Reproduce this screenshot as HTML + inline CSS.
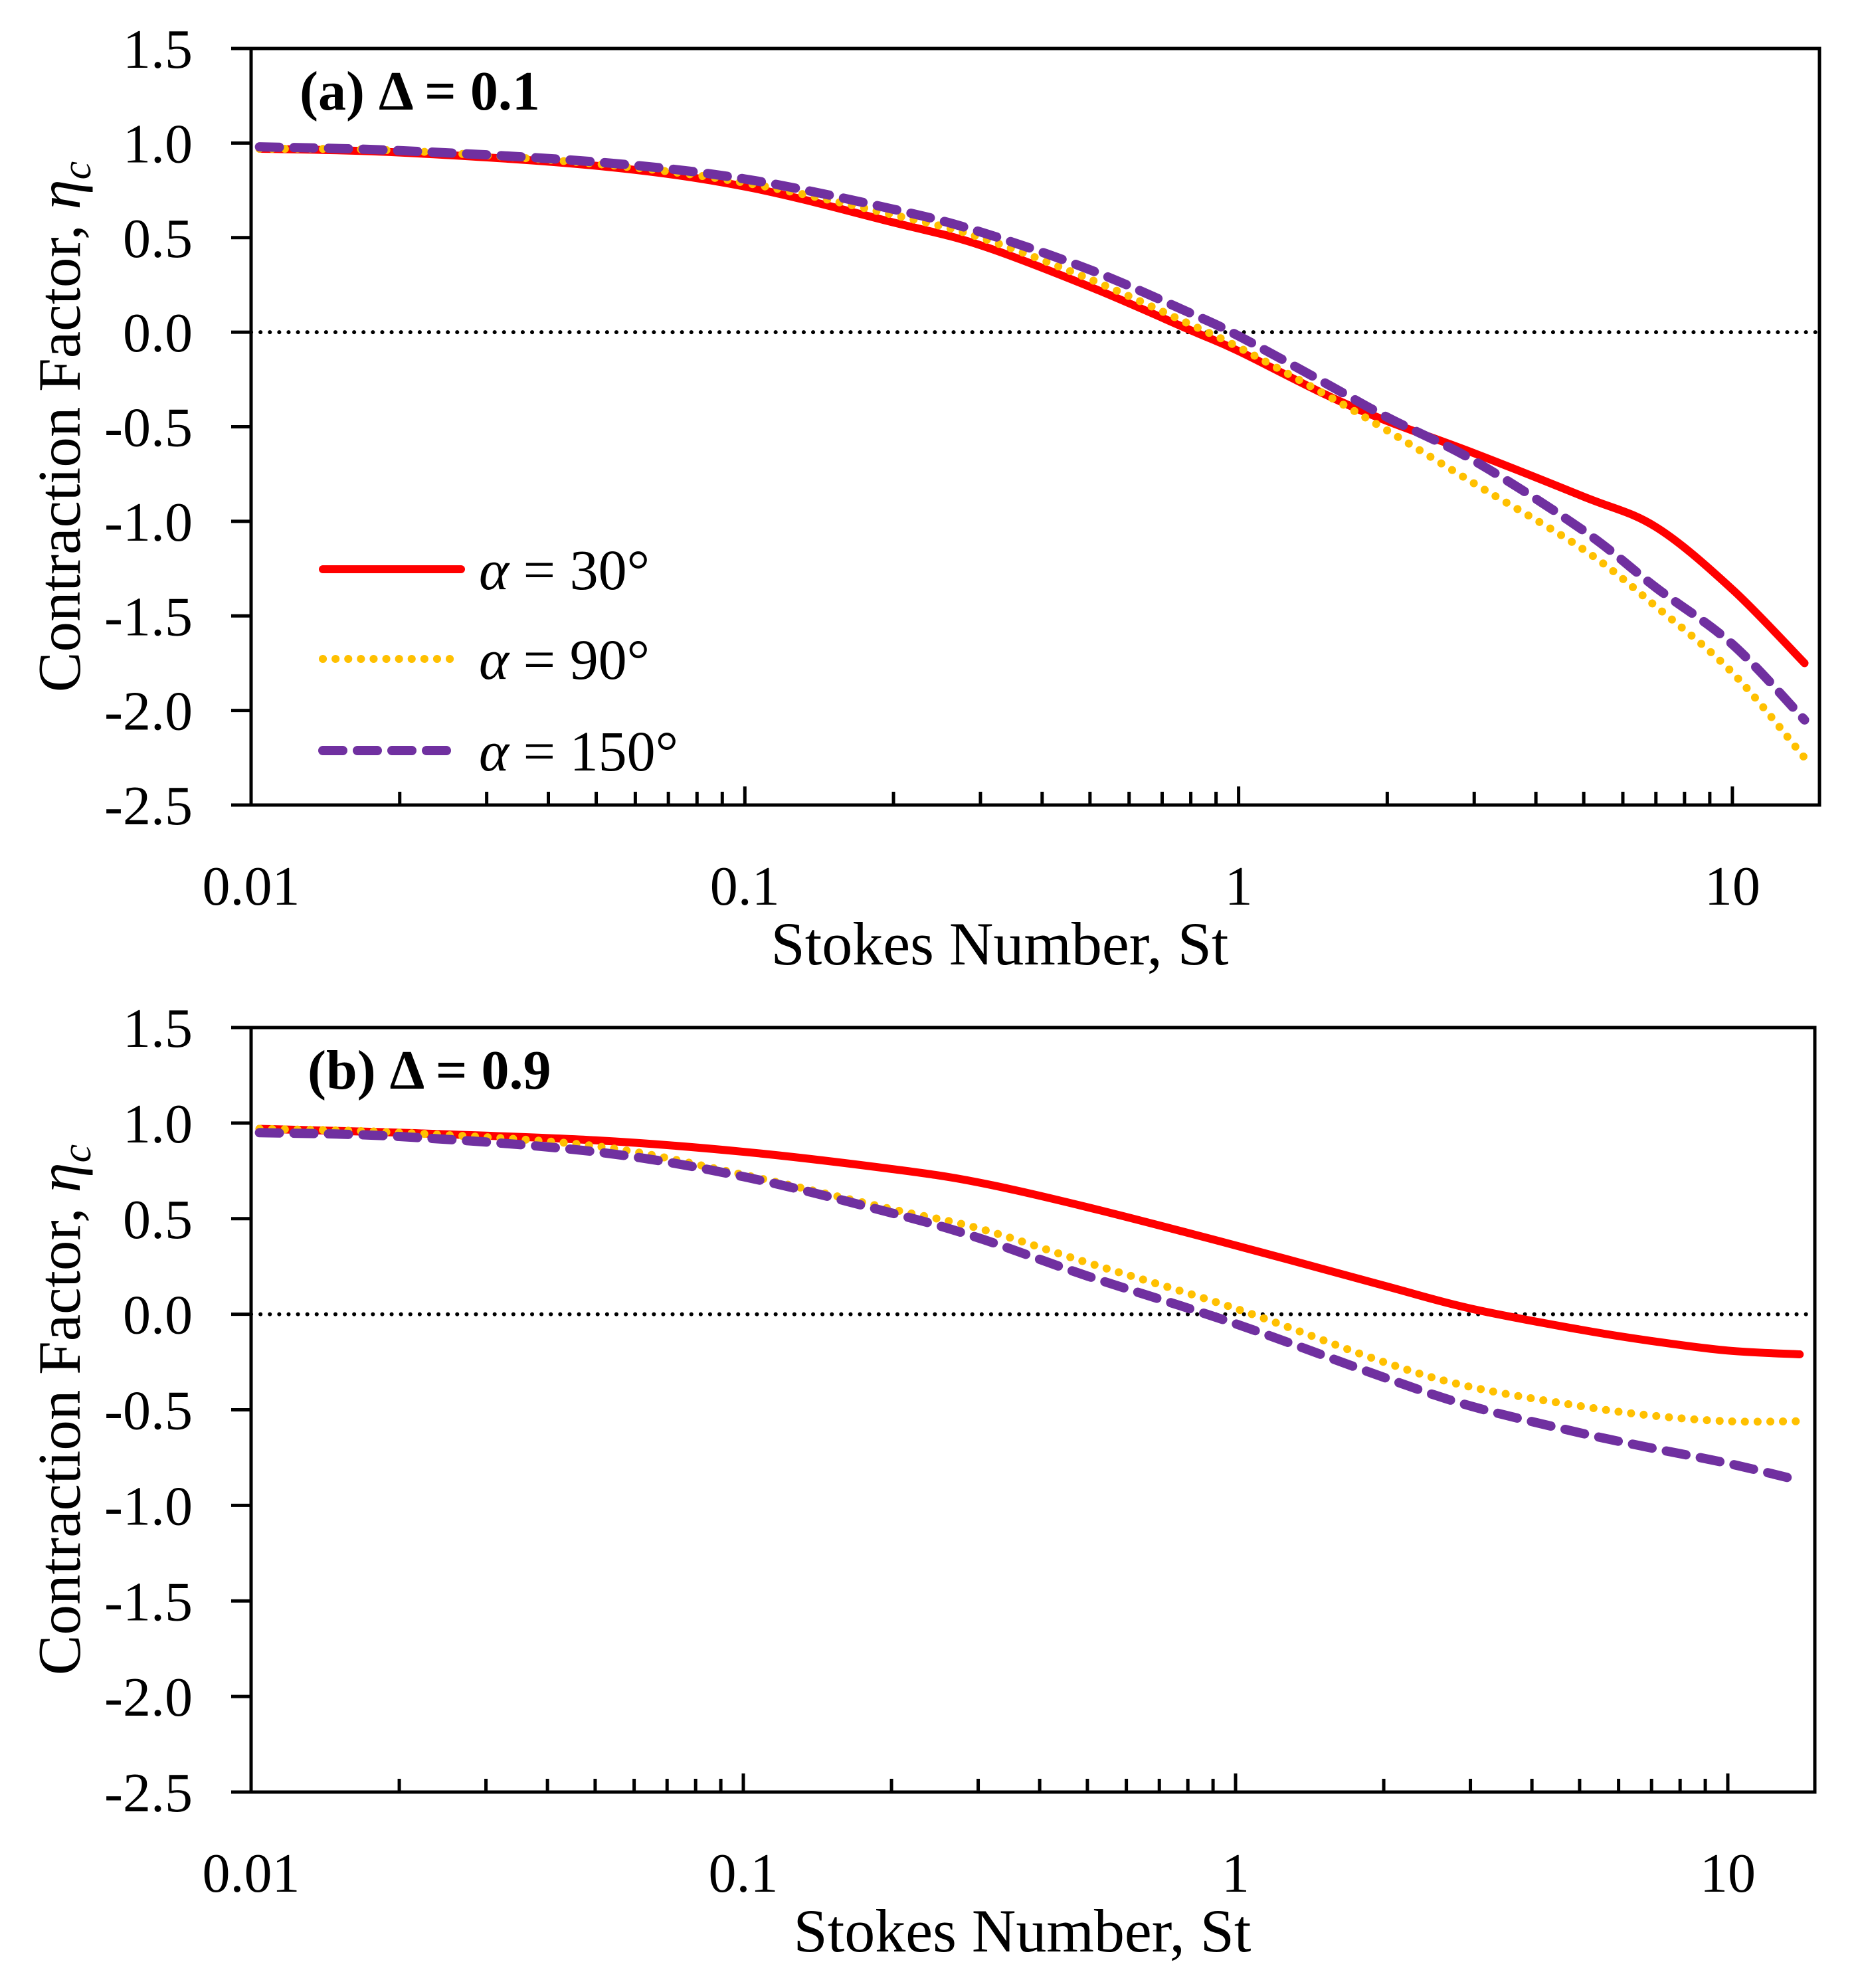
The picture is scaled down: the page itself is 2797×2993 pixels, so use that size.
<!DOCTYPE html>
<html><head><meta charset="utf-8"><style>
html,body{margin:0;padding:0;background:#fff;}
svg{display:block;}
text{font-family:"Liberation Serif",serif;fill:#000;}
</style></head><body>
<svg id="chart" width="2797" height="2993" viewBox="0 0 2797 2993" xmlns="http://www.w3.org/2000/svg"></svg>
<script>
const stA = [0.0104,0.02,0.05,0.1,0.2,0.3,0.5,0.8,1,1.5,2,3,5,7,10,14];
const a30 = [0.97,0.95,0.88,0.77,0.58,0.46,0.24,0.01,-0.1,-0.33,-0.47,-0.64,-0.87,-1.03,-1.36,-1.75];
const a90 = [0.97,0.96,0.89,0.79,0.62,0.5,0.28,0.04,-0.08,-0.33,-0.52,-0.8,-1.15,-1.45,-1.8,-2.25];
const a150 = [0.98,0.96,0.9,0.81,0.65,0.53,0.33,0.1,-0.02,-0.27,-0.45,-0.68,-1.05,-1.35,-1.65,-2.05];
const stB = [0.0104,0.02,0.05,0.1,0.2,0.3,0.5,1,2,3,5,7,10,14];
const b30 = [0.97,0.95,0.91,0.85,0.76,0.69,0.56,0.36,0.15,0.03,-0.08,-0.14,-0.19,-0.21];
const b90 = [0.97,0.95,0.88,0.73,0.55,0.45,0.27,0.03,-0.25,-0.38,-0.48,-0.53,-0.56,-0.56];
const b150 = [0.95,0.93,0.85,0.72,0.53,0.4,0.2,-0.05,-0.33,-0.48,-0.62,-0.7,-0.78,-0.87];
const yTicks = [1.5,1.0,0.5,0.0,-0.5,-1.0,-1.5,-2.0,-2.5];
const yTickLabels = ["1.5","1.0","0.5","0.0","-0.5","-1.0","-1.5","-2.0","-2.5"];
const xMajor = [0.01,0.1,1,10];
const xMajorLabels = ["0.01","0.1","1","10"];
const legendLabels = ["30°","90°","150°"];

const NS="http://www.w3.org/2000/svg";
const svg=document.getElementById('chart');
function mk(tag,attrs,parent){const e=document.createElementNS(NS,tag);for(const k in attrs)e.setAttribute(k,attrs[k]);(parent||svg).appendChild(e);return e;}

const styles=[
 {color:"#ff0000",w:12,dash:null,cap:"round"},
 {color:"#ffc000",w:12,dash:"0.1 19",cap:"round"},
 {color:"#7030a0",w:14,dash:"30 22",cap:"round"}
];

function panel(cfg){
 const g=mk('g',{});
 
 
 const L=378,R=cfg.right,T=cfg.top,B=cfg.bottom;
 const decade=cfg.decade;
 const X=v=>L+decade*Math.log10(v/0.01);
 const Y=v=>T+(1.5-v)/4*(B-T);
 const z=mk('line',{x1:L,x2:R,y1:Y(0),y2:Y(0),stroke:"#000","stroke-width":6,"stroke-dasharray":"0.1 14","stroke-linecap":"round"},g);
 
 
 cfg.series.forEach((ys,i)=>{
  const s=styles[i];
  const pts=cfg.st.map((v,j)=>[X(v),Y(ys[j])]);
  let d="M"+pts[0][0]+","+pts[0][1];
  for(let j=0;j<pts.length-1;j++){
   const p0=pts[Math.max(0,j-1)],p1=pts[j],p2=pts[j+1],p3=pts[Math.min(pts.length-1,j+2)];
   const c1=[p1[0]+(p2[0]-p0[0])/6,p1[1]+(p2[1]-p0[1])/6];
   const c2=[p2[0]-(p3[0]-p1[0])/6,p2[1]-(p3[1]-p1[1])/6];
   d+=" C"+c1[0]+","+c1[1]+" "+c2[0]+","+c2[1]+" "+p2[0]+","+p2[1];
  }
  const a={d:d,fill:"none",stroke:s.color,"stroke-width":s.w,"stroke-linecap":s.cap,"stroke-linejoin":"round"};
  if(s.dash)a["stroke-dasharray"]=s.dash;
  const p=mk('path',a,g);
  
  
 });
 const f=mk('rect',{x:L,y:T,width:R-L,height:B-T,fill:"none",stroke:"#000","stroke-width":5},g);
 
 
 yTicks.forEach((v,i)=>{
  mk('line',{x1:L-30,x2:L,y1:Y(v),y2:Y(v),stroke:"#000","stroke-width":5},g);
  const t=mk('text',{x:290,y:Y(v)+29,"text-anchor":"end","font-size":84},g);
  t.textContent=yTickLabels[i];
  
  
 });
 for(let dec=0.01;dec<=10;dec*=10){
  for(let m=1;m<=9;m++){
   const v=dec*m; const x=X(v);
   if(x<=L+1||x>=R)continue;
   const len=(m===1)?28:20;
   mk('line',{x1:x,x2:x,y1:B,y2:B-len,stroke:"#000","stroke-width":5},g);
  }
 }
 xMajor.forEach((v,i)=>{
  const t=mk('text',{x:X(v),y:B+150,"text-anchor":"middle","font-size":84},g);
  t.textContent=xMajorLabels[i];
  
  
 });
 const xt=mk('text',{x:cfg.xtX,y:B+240,"text-anchor":"middle","font-size":92},g);
 xt.textContent="Stokes Number, St";
 
 
 const cy=(T+B)/2;
 const yt=mk('text',{x:0,y:0,"text-anchor":"middle","font-size":91,transform:"translate(120,"+cy+") rotate(-90)"},g);
 yt.innerHTML='Contraction Factor, <tspan font-style="italic">η</tspan><tspan font-style="italic" font-size="62" dy="16">c</tspan>';
 
 
 const pt=mk('text',{x:cfg.titleX,y:T+92,"font-size":84,"font-weight":"bold"},g);
 pt.textContent=cfg.title;
 
 
 return g;
}

panel({name:"panel-a",top:73,bottom:1212,right:2739,decade:743.3,st:stA,series:[a30,a90,a150],title:"(a) Δ = 0.1",titleX:451,xtX:1505});
panel({name:"panel-b",top:1547,bottom:2698,right:2732,decade:741,st:stB,series:[b30,b90,b150],title:"(b) Δ = 0.9",titleX:463,xtX:1539});

const lg=mk('g',{});


const ly=[857,992,1130];
legendLabels.forEach((lab,i)=>{
 const s=styles[i];
 const a={x1:486,x2:694,y1:ly[i],y2:ly[i],stroke:s.color,"stroke-width":s.w,"stroke-linecap":"round"};
 if(s.dash)a["stroke-dasharray"]=s.dash;
 mk('line',a,lg);
 const t=mk('text',{x:721,y:ly[i]+30,"font-size":86},lg);
 t.innerHTML='<tspan font-style="italic">α</tspan> = '+lab;
 
 
});
</script>
</body></html>
